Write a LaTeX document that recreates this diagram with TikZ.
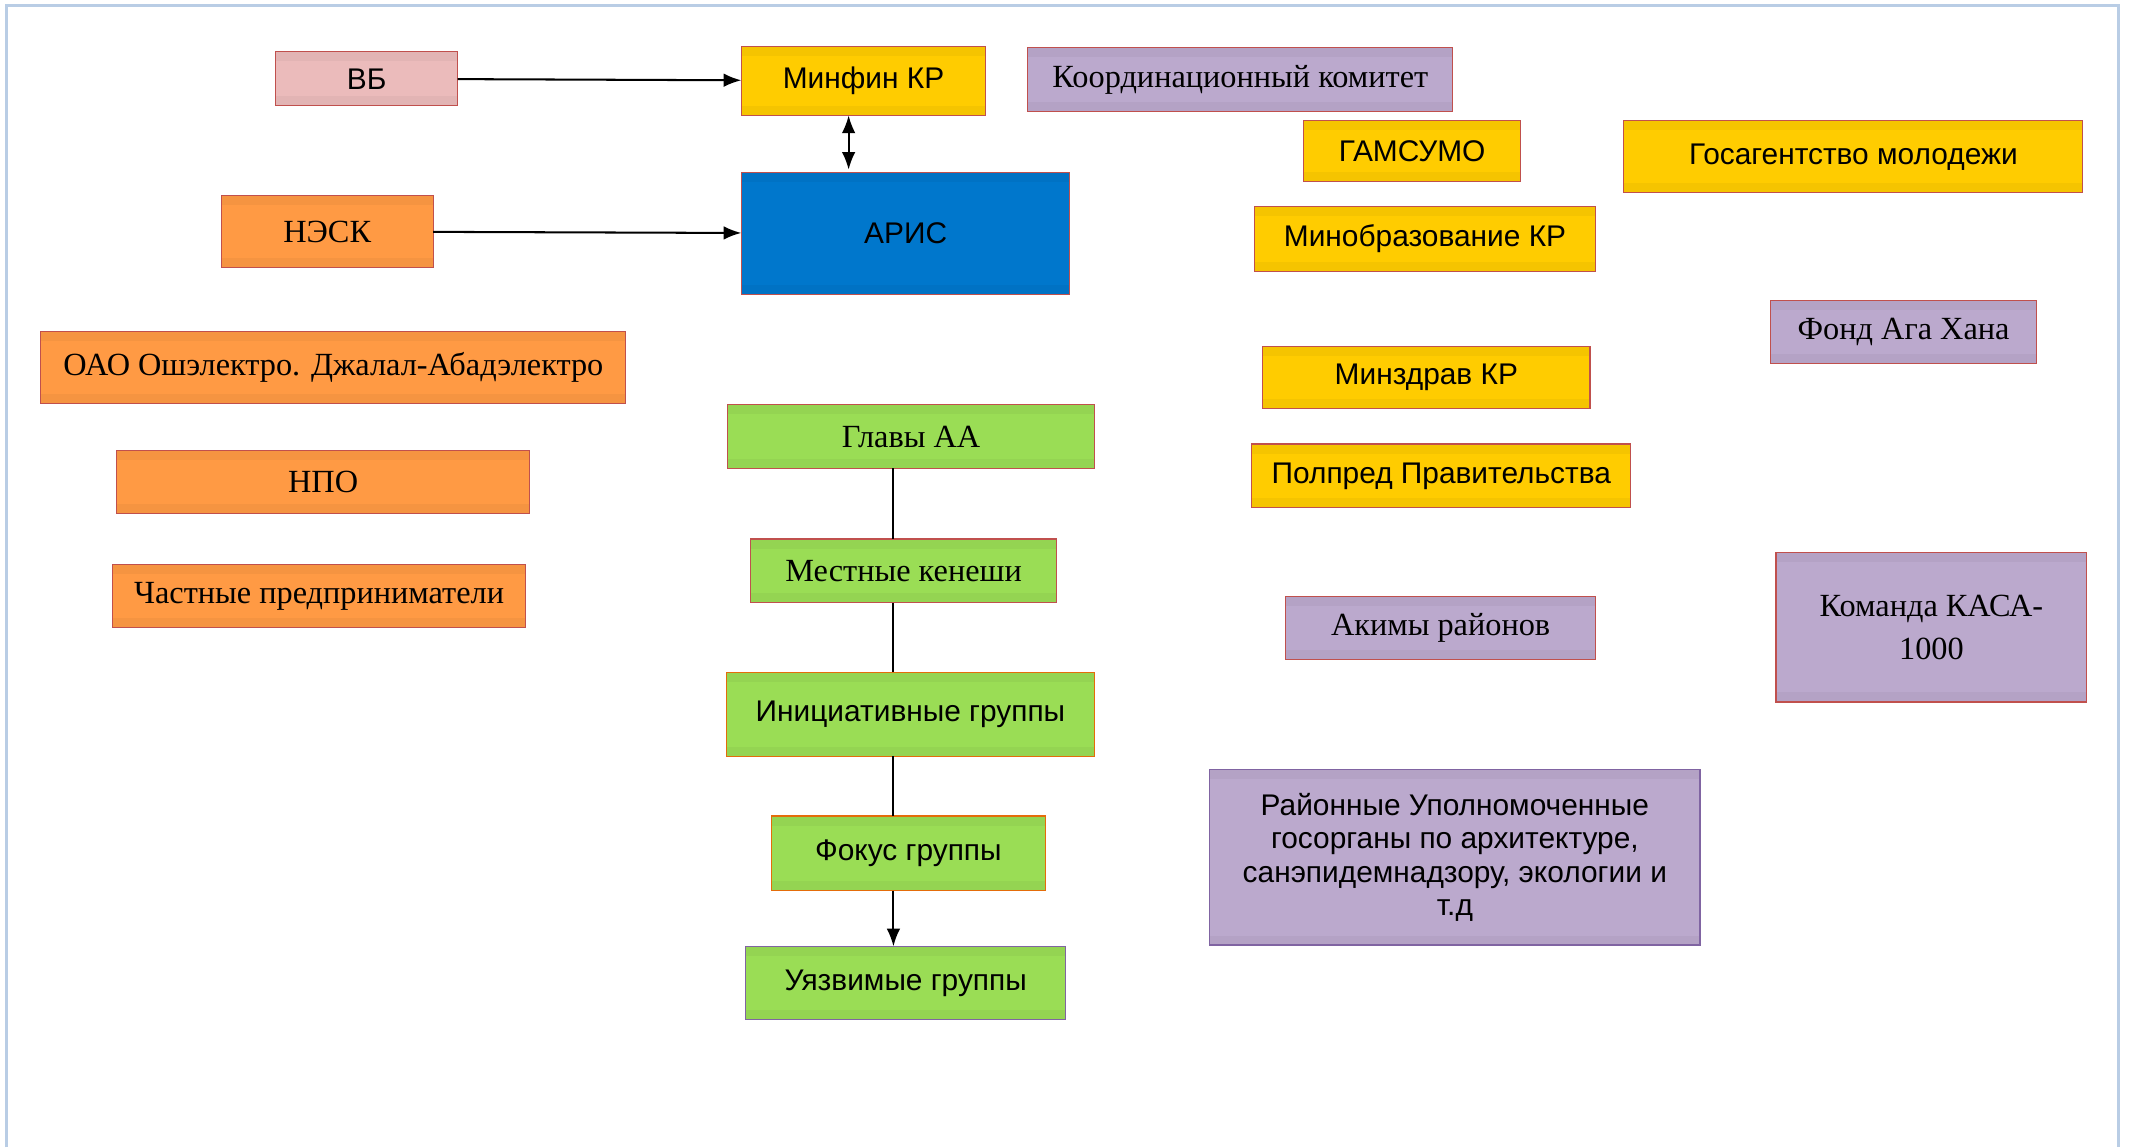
\documentclass[tikz,border=0pt]{standalone}
\usepackage{fontspec}
\setmainfont{Liberation Serif}
\setsansfont{Liberation Sans}
\usetikzlibrary{arrows.meta}

\definecolor{framecol}{HTML}{B9CDE5}
\definecolor{edgered}{HTML}{C0504D}
\definecolor{edgeorange}{HTML}{E46C0A}
\definecolor{edgepurple}{HTML}{8064A2}
\definecolor{pinkfill}{HTML}{EBBBBB}
\definecolor{goldfill}{HTML}{FFCC00}
\definecolor{lilacfill}{HTML}{BBA9CD}
\definecolor{orangefill}{HTML}{FF9A44}
\definecolor{bluefill}{HTML}{0077CC}
\definecolor{greenfill}{HTML}{9ADD55}

\begin{document}
\begin{tikzpicture}[
                % one unit is one point, y runs downwards
                x=1pt, y=-1pt,
                box/.style = {draw=edgered, line width=0.8pt, fill=#1,
                              inner sep=0pt, outer sep=0pt, align=center,
                              path picture={
                                \fill[#1!96!black] (path picture bounding box.north west)
                                    rectangle ([yshift=-7pt]path picture bounding box.north east);
                                \fill[#1!96!black] (path picture bounding box.south west)
                                    rectangle ([yshift=7pt]path picture bounding box.south east);}},
                pink box/.style = {box=pinkfill},
                gold box/.style = {box=goldfill},
                lilac box/.style = {box=lilacfill},
                orange box/.style = {box=orangefill},
                blue box/.style = {box=bluefill},
                green box/.style = {box=greenfill},
                sanslbl/.style = {font=\sffamily\fontsize{22}{24.5}\selectfont},
                seriflbl/.style = {font=\rmfamily\fontsize{23.8}{32}\selectfont},
                link/.style = {draw, line width=1.5pt},
                arrow/.style = {link, -{Latex[length=13pt,width=10pt]}},
                twoway/.style = {link, {Latex[length=13pt,width=10pt]}-{Latex[length=13pt,width=10pt]}}
            ]
            \useasboundingbox (0,0) rectangle (1568,845);
            % the frame, open at the bottom
            \draw[framecol, line width=2.2pt] (5,845) -- (5,4) -- (1560,4) -- (1560,845);
            % central column
            \node[pink box, sanslbl, minimum width=134, minimum height=40] (vb) at (270,58) {ВБ};
            \node[blue box, sanslbl, minimum width=242, minimum height=90] (aris) at (667,172) {АРИС};
            % yellow boxes
            \foreach \pos/\bw/\bh/\name/\txt in {
                {(636,59.5)/180/51/minfin/Минфин КР}, {(1040,111.5)/160/45/gamsumo/ГАМСУМО},
                {(1365,115.5)/338/53/gosagent/Госагентство молодежи},
                {(1049.5,176)/251/48/minobr/Минобразование КР}, {(1050.5,278)/241/46/minzdrav/Минздрав КР},
                {(1061.5,350.5)/279/47/polpred/Полпред Правительства}}
                \node[gold box, sanslbl, minimum width=\bw, minimum height=\bh] (\name) at \pos {\txt};
            % orange boxes
            \foreach \pos/\bw/\bh/\name/\txt in {
                {(241,170.5)/156/53/nesk/НЭСК}, {(245.5,270.5)/431/53/osh/ОАО Ошэлектро. Джалал-Абадэлектро},
                {(238,355)/304/46/npo/НПО}, {(235,439)/304/46/chast/Частные предприниматели}}
                \node[orange box, seriflbl, minimum width=\bw, minimum height=\bh] (\name) at \pos {\txt};
            % lilac boxes
            \foreach \pos/\bw/\bh/\name/\txt in {
                {(913.5,58.5)/313/47/koord/Координационный комитет}, {(1402,244.5)/196/47/aga/Фонд Ага Хана},
                {(1061,462.5)/228/47/akimy/Акимы районов}, {(1422.5,462)/229/110/kasa/{Команда КАСА-\\1000}}}
                \node[lilac box, seriflbl, minimum width=\bw, minimum height=\bh] (\name) at \pos {\txt};
            \node[lilac box, sanslbl, draw=edgepurple, minimum width=361, minimum height=129] (rayon)
                at (1071.5,631.5) {Районные Уполномоченные\\госорганы по архитектуре,\\санэпидемнадзору, экологии и\\т.д};
            % green boxes, local level
            \foreach \pos/\bw/\bh/\name/\edge/\fnt/\txt in {
                {(671,321.5)/270/47/glavy/edgered/seriflbl/Главы АА},
                {(665.5,420.5)/225/47/keneshi/edgered/seriflbl/Местные кенеши},
                {(670.5,526)/271/62/initsiat/edgeorange/sanslbl/Инициативные группы},
                {(669,628.5)/202/55/fokus/edgeorange/sanslbl/Фокус группы},
                {(667,724)/236/54/uyazv/edgepurple/sanslbl/Уязвимые группы}}
                \node[green box, \fnt, draw=\edge, minimum width=\bw, minimum height=\bh] (\name) at \pos {\txt};
            % connectors
            \coordinate (dbl) at (625,0);
            \coordinate (spine) at (658,0);
            \path[arrow] (vb) -- (minfin);
            \path[arrow] (nesk) -- (aris);
            \path[twoway] (minfin.south -| dbl) -- ([yshift=2pt]aris.north -| dbl);
            \foreach \source/\dest in {glavy/keneshi, keneshi/initsiat, initsiat/fokus}
                \path[link] (\source.south -| spine) -- (\dest.north -| spine);
            \path[arrow] (fokus.south -| spine) -- (uyazv.north -| spine);
        \end{tikzpicture}
\end{document}
